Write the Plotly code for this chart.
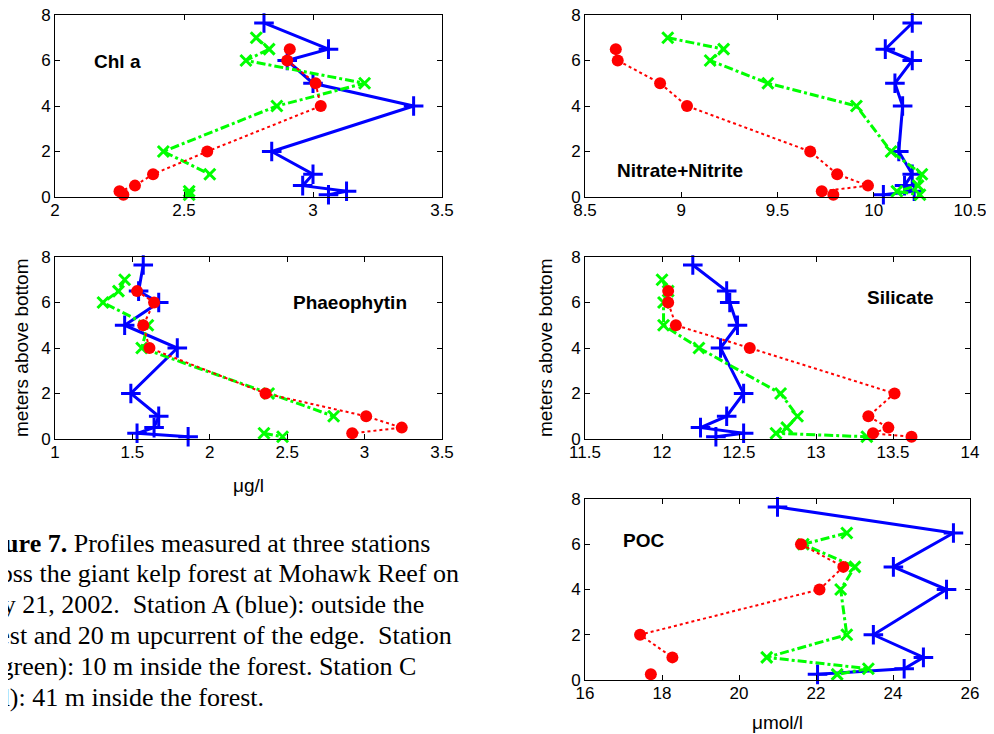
import plotly.graph_objects as go

# sample heights (m above bottom) for each station
depth_a = [7.65, 6.5, 6, 5, 4, 2, 1, 0.5, 0.25, 0.1]   # Station A (blue)
depth_b = [7, 6.5, 6, 5, 4, 2, 1, 0.5, 0.25, 0.1]      # Station B (green)
depth_c = [6.5, 6, 5, 4, 2, 1, 0.5, 0.25, 0.1]         # Station C (red)

# Chl a (ug/l)
chl_a = [2.81, 3.06, 2.90, 3.00, 3.39, 2.84, 3.00, 2.96, 3.13, 3.06]
chl_b = [2.78, 2.83, 2.74, 3.20, 2.86, 2.42, 2.60, None, 2.52, 2.52]
chl_c = [2.91, 2.90, 3.01, 3.03, 2.59, 2.38, 2.31, 2.25, 2.265]

# Nitrate+Nitrite
nit_a = [10.20, 10.06, 10.20, 10.11, 10.15, 10.13, 10.20, 10.16, 10.21, 10.05]
nit_b = [8.93, 9.22, 9.15, 9.45, 9.91, 10.09, 10.25, 10.23, 10.12, 10.24]
nit_c = [8.66, 8.67, 8.89, 9.03, 9.67, 9.81, 9.97, 9.73, 9.79]

# Phaeophytin (ug/l)
pha_a = [1.57, 1.54, 1.67, 1.45, 1.79, 1.49, 1.67, 1.64, 1.53, 1.86]
pha_b = [1.45, 1.41, 1.31, 1.60, 1.56, 2.38, 2.80, None, 2.35, 2.47]
pha_c = [1.53, 1.64, 1.57, 1.61, 2.36, 3.01, 3.24, 2.92, None]

# Silicate
sil_a = [12.20, 12.42, 12.44, 12.49, 12.38, 12.53, 12.42, 12.25, 12.53, 12.35]
sil_b = [12.00, 12.04, 12.01, 12.01, 12.24, 12.77, 12.88, 12.81, 12.74, 13.33]
sil_c = [12.04, 12.04, 12.09, 12.57, 13.51, 13.34, 13.47, 13.37, 13.62]

# POC (umol/l)
poc_a = [21.00, 25.57, None, 24.01, 25.39, 23.49, 24.79, 24.29, 22.04, None]
poc_b = [None, 22.80, 21.67, 23.01, 22.64, 22.80, 20.72, 23.36, 22.55, None]
poc_c = [None, 21.61, 22.71, 22.09, 17.43, 18.27, None, 17.71, None]

# caption lines (the page is cropped on the left, as in the source scan)
caption_lines = [
    "<b>Figure 7.</b> Profiles measured at three stations",
    "across the giant kelp forest at Mohawk Reef on",
    "May 21, 2002.\u00a0 Station A (blue): outside the",
    "forest and 20 m upcurrent of the edge.\u00a0 Station",
    "B (green): 10 m inside the forest. Station C",
    "(red): 41 m inside the forest.",
]

BLUE = "#0000FF"
GREEN = "#00FF00"
RED = "#FF0000"

# the page body keeps its default 8px margin, so the figure is shrunk by that
# much and every screen position below is shifted by OFF
OFF = 8
W, H = 994 - OFF, 734 - OFF


def px_x(x):
    return (x - OFF) / W


def px_y(y):
    return 1 - (y - OFF) / H


# name, station values, x range, dtick, axis box on screen (left, right, top, bottom), label position
panels = [
    ("Chl a", chl_a, chl_b, chl_c, [2, 3.5], 0.5, (55, 442, 15, 197), (117, 62)),
    ("Nitrate+Nitrite", nit_a, nit_b, nit_c, [8.5, 10.5], 0.5, (585, 970, 15, 197), (680, 170)),
    ("Phaeophytin", pha_a, pha_b, pha_c, [1, 3.5], 0.5, (55, 442, 257, 439), (350, 302)),
    ("Silicate", sil_a, sil_b, sil_c, [11.5, 14], 0.5, (585, 970, 257, 439), (900, 298)),
    ("POC", poc_a, poc_b, poc_c, [16, 26], 2, (585, 970, 499, 680), (643, 540)),
]

tick_font = dict(family="Liberation Sans, Arial", size=17, color="black")
label_font = dict(family="Liberation Sans, Arial", size=19, color="black")

fig = go.Figure()
annotations = []
layout_axes = {}

for i, (name, va, vb, vc, xr, dt, box, lab) in enumerate(panels):
    n = "" if i == 0 else str(i + 1)
    xa, ya = "x" + n, "y" + n
    l, r, t, b = box
    common = dict(
        ticks="inside", ticklen=5, tickcolor="black", showline=True,
        linecolor="black", linewidth=1, mirror="ticks", showgrid=False,
        zeroline=False, tickfont=tick_font, automargin=False,
        ticklabeloverflow="allow",
    )
    layout_axes["xaxis" + n] = dict(
        domain=[px_x(l), px_x(r)], range=xr, dtick=dt, tick0=xr[0], anchor=ya,
        ticklabelstandoff=-2, **common
    )
    layout_axes["yaxis" + n] = dict(
        domain=[px_y(b), px_y(t)], range=[0, 8], dtick=2, anchor=xa, **common
    )

    fig.add_trace(go.Scatter(
        x=va, y=depth_a, xaxis=xa, yaxis=ya, mode="lines+markers",
        connectgaps=True, cliponaxis=False,
        line=dict(color=BLUE, width=3),
        marker=dict(symbol="cross-thin", size=14, line=dict(color=BLUE, width=3)),
    ))
    fig.add_trace(go.Scatter(
        x=vb, y=depth_b, xaxis=xa, yaxis=ya, mode="lines+markers",
        cliponaxis=False,
        line=dict(color=GREEN, width=3, dash="dashdot"),
        marker=dict(symbol="x-thin", size=11, line=dict(color=GREEN, width=3)),
    ))
    fig.add_trace(go.Scatter(
        x=vc, y=depth_c, xaxis=xa, yaxis=ya, mode="lines+markers",
        cliponaxis=False,
        line=dict(color=RED, width=2, dash="dot"),
        marker=dict(symbol="circle", size=12, color=RED),
    ))

    annotations.append(dict(
        text="<b>%s</b>" % name, x=px_x(lab[0]), y=px_y(lab[1]),
        xref="paper", yref="paper", showarrow=False,
        xanchor="center", yanchor="middle",
        font=dict(family="Liberation Sans, Arial", size=19, color="black"),
    ))

# axis titles
for txt, px, py, ang in [
    ("meters above bottom", 21, 348, -90),
    ("meters above bottom", 545, 348, -90),
    ("\u03bcg/l", 248, 485, 0),
    ("\u03bcmol/l", 777, 722, 0),
]:
    annotations.append(dict(
        text=txt, x=px_x(px), y=px_y(py), xref="paper", yref="paper",
        showarrow=False, textangle=ang, xanchor="center", yanchor="middle",
        font=label_font,
    ))

# figure caption, one annotation per line so the line spacing matches
for k, line in enumerate(caption_lines):
    annotations.append(dict(
        text=line, x=px_x(-34), y=px_y(543 + 30.8 * k), xref="paper", yref="paper",
        showarrow=False, xanchor="left", yanchor="middle", align="left",
        font=dict(family="Liberation Serif, Times New Roman", size=26, color="black"),
    ))

fig.update_layout(
    width=W, height=H,
    margin=dict(l=0, r=0, t=0, b=0),
    paper_bgcolor="white", plot_bgcolor="white",
    showlegend=False,
    annotations=annotations,
    **layout_axes,
)

fig.write_html("out.html")
